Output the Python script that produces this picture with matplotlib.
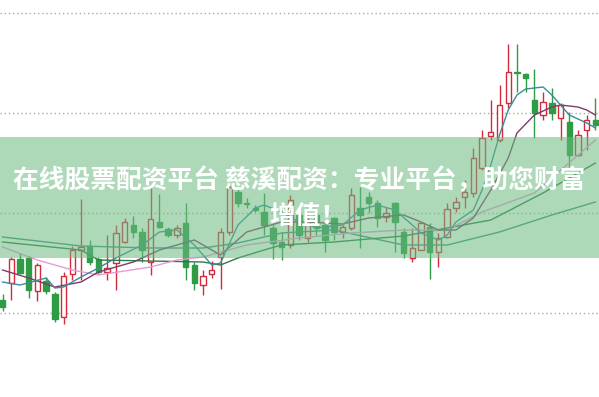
import numpy as np
import matplotlib.pyplot as plt
from matplotlib.patches import Rectangle

plt.rcParams['font.family'] = ['Noto Sans CJK SC', 'DejaVu Sans']

# 日K线数据
opens = [9.13, 9.30, 9.54, 9.55, 9.22, 9.32, 9.19, 8.96, 9.39, 9.63,
         9.67, 9.54, 9.41, 9.50, 9.71, 9.88, 9.81, 9.51, 9.91, 9.84,
         9.78, 9.90, 9.48, 9.28, 9.39, 9.56, 9.81, 10.21, 10.10, 10.05,
         10.01, 9.85, 9.71, 9.68, 9.98, 9.75, 9.98, 9.88, 9.95, 9.81,
         9.85, 10.05, 10.16, 10.10, 9.96, 10.10, 9.81, 9.55, 9.63, 9.86,
         9.61, 9.76, 10.05, 10.16, 10.20, 10.45, 10.77, 10.73, 11.10, 11.41,
         11.39, 11.13, 10.98, 11.10, 10.95, 10.91, 10.58, 10.83, 10.93]
highs = [9.19, 9.56, 9.60, 9.57, 9.50, 9.36, 9.21, 9.41, 9.67, 10.14,
         9.73, 9.56, 9.78, 9.88, 9.95, 9.97, 9.85, 10.25, 10.19, 9.86,
         9.88, 10.10, 9.51, 9.43, 9.52, 9.85, 10.30, 10.26, 10.15, 10.08,
         10.20, 9.88, 9.81, 10.18, 10.03, 9.98, 10.03, 9.93, 9.96, 9.88,
         10.25, 10.26, 10.21, 10.13, 10.06, 10.11, 9.85, 9.85, 9.91, 9.90,
         9.80, 10.10, 10.16, 10.33, 10.65, 10.83, 11.13, 11.28, 11.69, 11.69,
         11.40, 11.44, 11.21, 11.25, 11.10, 11.01, 10.83, 10.98, 11.15]
lows = [9.02, 9.13, 9.39, 9.15, 9.12, 9.19, 8.91, 8.89, 9.33, 9.33,
        9.48, 9.39, 9.33, 9.23, 9.70, 9.75, 9.51, 9.38, 9.85, 9.76,
        9.75, 9.33, 9.23, 9.18, 9.35, 9.24, 9.78, 10.06, 10.05, 10.01,
        9.78, 9.54, 9.53, 9.65, 9.73, 9.71, 9.78, 9.61, 9.73, 9.75,
        9.83, 9.65, 10.00, 9.86, 9.91, 9.61, 9.55, 9.51, 9.63, 9.34,
        9.46, 9.75, 10.01, 10.05, 10.16, 10.43, 10.73, 10.71, 11.05, 11.21,
        11.21, 10.75, 10.93, 10.93, 10.73, 10.46, 10.57, 10.63, 10.83]
closes = [9.06, 9.54, 9.40, 9.23, 9.48, 9.22, 8.94, 9.37, 9.63, 9.66,
          9.51, 9.41, 9.45, 9.80, 9.91, 9.81, 9.63, 9.94, 9.86, 9.78,
          9.85, 9.46, 9.30, 9.37, 9.43, 9.81, 10.26, 10.10, 10.09, 10.03,
          9.88, 9.70, 9.66, 10.13, 9.78, 9.93, 9.85, 9.73, 9.81, 9.86,
          10.18, 9.98, 10.10, 9.95, 10.00, 9.91, 9.60, 9.65, 9.90, 9.61,
          9.75, 10.04, 10.11, 10.21, 10.55, 10.75, 10.81, 11.08, 11.41, 11.40,
          11.35, 11.00, 11.11, 11.00, 11.08, 10.58, 10.78, 10.93, 10.88]

# 均线（读图估计的点）
ma5_x = [0, 2, 5, 6, 7, 9, 11, 13, 16, 18, 20, 22, 24, 25, 27, 29, 30, 32, 34, 36,
         39, 41, 43, 45, 47, 48, 50, 51, 52, 54, 55, 56, 57, 58, 59, 60, 61, 62, 63, 64,
         65, 67, 68]
ma5 = [9.31, 9.28, 9.35, 9.25, 9.26, 9.36, 9.45, 9.55, 9.68, 9.81, 9.83, 9.68, 9.48, 9.50,
       9.88, 10.05, 10.08, 10.01, 9.91, 9.85, 9.88, 10.03, 10.08, 10.03, 9.88, 9.80, 9.73,
       9.78, 9.91, 10.03, 10.23, 10.48, 10.78, 11.03, 11.18, 11.24, 11.25, 11.26, 11.18,
       11.08, 10.98, 10.90, 10.85]
ma10_x = [0, 3, 6, 9, 11, 15, 18, 22, 24, 25, 28, 32, 35, 39, 42, 46, 48, 50, 52, 54,
          56, 58, 59, 61, 63, 64, 66, 67, 68]
ma10 = [9.43, 9.35, 9.26, 9.31, 9.41, 9.51, 9.63, 9.73, 9.63, 9.58, 9.81, 9.91, 9.91,
        9.89, 9.95, 9.98, 9.91, 9.83, 9.83, 9.95, 10.23, 10.55, 10.80, 10.98, 11.06,
        11.08, 11.06, 11.03, 10.98]
ma20_x = [0, 4, 8, 11, 17, 20, 23, 28, 34, 40, 46, 51, 55, 61, 68]
ma20 = [9.66, 9.53, 9.43, 9.38, 9.46, 9.53, 9.56, 9.68, 9.75, 9.80, 9.83, 9.83, 10.01,
        10.20, 10.73]
ma30_x = [0, 9, 11, 17, 23, 25, 27, 30, 32, 38, 46, 51, 56, 62, 68]
ma30 = [9.71, 9.63, 9.53, 9.52, 9.51, 9.48, 9.55, 9.63, 9.68, 9.71, 9.77, 9.85, 9.93,
        10.20, 10.50]
ma60_x = [0, 9, 17, 23, 27, 32, 38, 46, 51, 57, 63, 68]
ma60 = [9.76, 9.67, 9.65, 9.65, 9.70, 9.80, 9.83, 9.68, 9.68, 9.81, 9.98, 10.11]

title_1 = '在线股票配资平台 慈溪配资：专业平台，助您财富'
title_2 = '增值！'

fig = plt.figure(figsize=(5.99, 3.97), dpi=100)
ax = fig.add_axes([0, 0, 1, 1])
ax.set_xlim(-0.29, 68.41)
ax.set_ylim(8.16, 12.13)
ax.axis('off')

for level in [9, 10, 11, 12]:
    ax.axhline(level, color='#aaaaaa', lw=1, ls=(0, (1, 2)), zorder=0)

o = np.array(opens)
c = np.array(closes)
x = np.arange(len(o))
up = c >= o
red = '#d42a3c'
green = '#2e9b45'

ax.vlines(x[up], np.array(lows)[up], np.array(highs)[up], color=red, lw=1, zorder=2)
ax.vlines(x[~up], np.array(lows)[~up], np.array(highs)[~up], color=green, lw=1, zorder=2)
body = np.maximum(np.abs(c - o), 0.012)
bottom = np.minimum(o, c)
ax.bar(x[up], body[up], bottom=bottom[up], width=0.62, facecolor='white',
       edgecolor=red, lw=1, zorder=3)
ax.bar(x[~up], body[~up], bottom=bottom[~up], width=0.62, color=green,
       edgecolor=green, lw=1, zorder=3)

ax.plot(ma60_x, ma60, color='#3f8f86', lw=1, zorder=4)
ax.plot(ma30_x, ma30, color='#2d7a45', lw=1, zorder=4)
ax.plot(ma20_x, ma20, color='#e79ad8', lw=1, zorder=4)
ax.plot(ma10_x, ma10, color='#7d3b6e', lw=1, zorder=4)
ax.plot(ma5_x, ma5, color='#3a8c98', lw=1, zorder=4)

# 绿色横幅
ax.add_patch(Rectangle((0, 1 - 258 / 397), 1, 121 / 397, transform=ax.transAxes,
                       facecolor='#6bba80', alpha=0.55, lw=0, zorder=5))

fig.text(0.5, 1 - 181 / 397, title_1, ha='center', va='center', color='white',
         fontsize=18.5, fontweight='bold', zorder=6)
fig.text(0.5 + 8 / 599, 1 - 217 / 397, title_2, ha='center', va='center', color='white',
         fontsize=18.5, fontweight='bold', zorder=6)

fig.savefig('out.png', dpi=100)
